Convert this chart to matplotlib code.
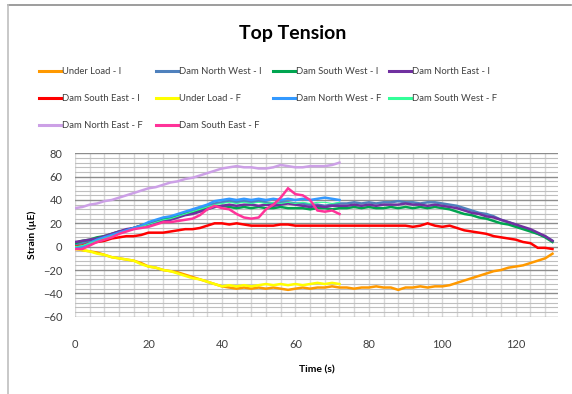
import numpy as np
import matplotlib
matplotlib.use("Agg")
import matplotlib.pyplot as plt
from matplotlib.lines import Line2D
from matplotlib.ticker import MultipleLocator

plt.rcParams['font.family'] = ['Lato', 'DejaVu Sans']

# time bases (s)
t_i = np.arange(0, 132, 2)   # initial runs, 0..130
t_f = np.arange(0, 74, 2)    # final runs, 0..72

under_load_i = [0, -3, -4, -5, -7, -9, -10, -11, -12, -14, -17, -18, -20, -21, -22, -24,
                -26, -28, -30, -32, -34, -35, -36, -35, -36, -35, -36, -35, -36, -37, -36, -35,
                -36, -35, -35, -34, -35, -35, -36, -35, -35, -34, -35, -35, -37, -35, -35, -34,
                -35, -34, -34, -33, -31, -29, -27, -25, -23, -21, -20, -18, -17, -16, -14, -12,
                -10, -6]
nw_i = [2, 3, 5, 6, 8, 10, 12, 14, 16, 18, 20, 22, 24, 25, 27, 29,
        31, 33, 35, 37, 38, 39, 38, 39, 38, 39, 38, 37, 38, 38, 37, 37,
        36, 36, 35, 36, 37, 37, 38, 37, 38, 37, 38, 38, 39, 38, 38, 37,
        38, 38, 37, 36, 35, 33, 31, 29, 28, 26, 23, 21, 19, 16, 14, 11,
        9, 5]
sw_i = [3, 5, 6, 8, 9, 11, 13, 14, 16, 18, 20, 21, 23, 24, 26, 28,
        29, 31, 33, 34, 35, 34, 33, 34, 33, 34, 33, 33, 34, 33, 33, 33,
        32, 33, 33, 32, 33, 33, 34, 33, 34, 33, 33, 34, 33, 34, 33, 34,
        33, 34, 33, 32, 30, 28, 27, 25, 24, 22, 20, 19, 17, 15, 13, 11,
        8, 4]
ne_i = [4, 5, 6, 7, 9, 11, 13, 15, 16, 18, 19, 21, 22, 23, 25, 27,
        28, 30, 32, 34, 35, 36, 35, 36, 36, 35, 36, 35, 36, 37, 36, 35,
        34, 35, 34, 35, 35, 35, 36, 35, 36, 35, 36, 36, 36, 37, 36, 36,
        35, 36, 35, 34, 33, 31, 29, 28, 26, 25, 23, 21, 19, 17, 15, 12,
        9, 5]
se_i = [0, 1, 3, 4, 5, 7, 8, 9, 9, 10, 12, 12, 12, 13, 14, 15,
        15, 16, 18, 20, 20, 19, 20, 19, 18, 18, 18, 18, 19, 19, 18, 18,
        18, 18, 18, 18, 18, 18, 18, 18, 18, 18, 18, 18, 18, 18, 17, 18,
        20, 18, 17, 18, 16, 14, 13, 12, 11, 9, 8, 7, 6, 4, 3, -1, -1, -2]

under_load_f = [-2, -3, -4, -6, -7, -9, -10, -11, -12, -15, -17, -18, -20, -21, -23, -25,
                -27, -28, -30, -32, -34, -33, -34, -33, -34, -33, -32, -33, -32, -33, -32, -33,
                -32, -31, -32, -31, -32]
nw_f = [-1, 0, 3, 6, 8, 10, 12, 14, 16, 18, 21, 23, 25, 26, 28, 30,
        32, 34, 36, 39, 40, 41, 40, 41, 40, 41, 40, 41, 40, 41, 40, 41,
        40, 41, 42, 41, 40]
sw_f = [0, 1, 3, 5, 7, 9, 11, 13, 15, 17, 19, 21, 23, 24, 26, 28,
        30, 32, 34, 36, 37, 38, 37, 38, 37, 38, 37, 38, 37, 38, 37, 38,
        37, 38, 38, 37, 38]
ne_f = [33, 34, 36, 37, 39, 40, 42, 44, 46, 48, 50, 51, 53, 55, 56, 58,
        59, 61, 63, 65, 67, 68, 69, 68, 68, 67, 67, 68, 70, 69, 68, 68,
        69, 69, 69, 70, 72]
se_f = [-2, -2, 1, 4, 6, 8, 11, 13, 15, 16, 17, 19, 21, 21, 22, 23,
        24, 27, 32, 35, 33, 32, 28, 25, 24, 25, 32, 36, 42, 50, 45, 44,
        40, 31, 30, 31, 28]

series = [
    (t_i, under_load_i, 'Under Load - I', '#FF9900', 1.8),
    (t_i, nw_i, 'Dam North West - I', '#4F81BD', 1.8),
    (t_i, sw_i, 'Dam South West - I', '#00A550', 1.8),
    (t_i, ne_i, 'Dam North East - I', '#7030A0', 1.8),
    (t_i, se_i, 'Dam South East - I', '#FF0000', 1.8),
    (t_f, under_load_f, 'Under Load - F', '#FFFF00', 1.8),
    (t_f, nw_f, 'Dam North West - F', '#3399FF', 1.8),
    (t_f, sw_f, 'Dam South West - F', '#33FF99', 0.8),
    (t_f, ne_f, 'Dam North East - F', '#CCA0E6', 1.8),
    (t_f, se_f, 'Dam South East - F', '#FF3399', 1.8),
]

fig = plt.figure(figsize=(5.72, 3.94), dpi=100)
ax = fig.add_axes([75/572, 1-316.7/394, 483/572, 163.4/394])

handles = []
for t, v, lab, col, w in series:
    h, = ax.plot(t, v, color=col, lw=w, label=lab, solid_joinstyle='miter')
    handles.append(h)

ax.set_xlim(0, 131.5)
ax.set_ylim(-60, 80)
ax.xaxis.set_major_locator(MultipleLocator(20))
ax.xaxis.set_minor_locator(MultipleLocator(4))
ax.yaxis.set_major_locator(MultipleLocator(20))
ax.yaxis.set_minor_locator(MultipleLocator(4))
ax.grid(which='major', axis='y', color='#8C8C8C', lw=1.0)
ax.grid(which='minor', axis='y', color='#BFBFBF', lw=0.8)
ax.grid(which='both', axis='x', color='#D9D9D9', lw=1.0)
ax.set_axisbelow(True)
for s in ax.spines.values():
    s.set_visible(False)
ax.tick_params(which='both', length=0)
ax.tick_params(axis='x', pad=16, labelsize=8, labelcolor='#404040')
ax.tick_params(axis='y', pad=9, labelsize=8, labelcolor='#404040')

ax.set_xlabel('Time (s)', fontsize=7.5, fontweight='bold', labelpad=11)
ax.set_ylabel('Strain (µE)', fontsize=7.5, fontweight='bold', labelpad=4)
fig.text(293/572, 1-33/394, 'Top Tension', ha='center', va='center',
         fontsize=14, fontweight='bold')

# legend: four columns, Excel style
cols_x = [39, 156, 273, 389]
for c in range(4):
    hs = handles[c::4]
    leg = fig.legend(hs, [h.get_label() for h in hs], loc='upper left',
                     bbox_to_anchor=(cols_x[c]/572, 1-67/394), frameon=False,
                     fontsize=6.8, handlelength=2.3, handletextpad=0.1,
                     labelspacing=1.9, borderpad=0, borderaxespad=0)
    for txt in leg.get_texts():
        txt.set_color('#404040')
    for ln in leg.get_lines():
        ln.set_linewidth(2.2)

# chart border
fig.add_artist(Line2D([8/572, 571/572], [1-5/394, 1-5/394], color='#8C8C8C', lw=1.2))
fig.add_artist(Line2D([8/572, 8/572], [0, 1-5/394], color='#BFBFBF', lw=1.2))

fig.savefig('out.png', dpi=100)
